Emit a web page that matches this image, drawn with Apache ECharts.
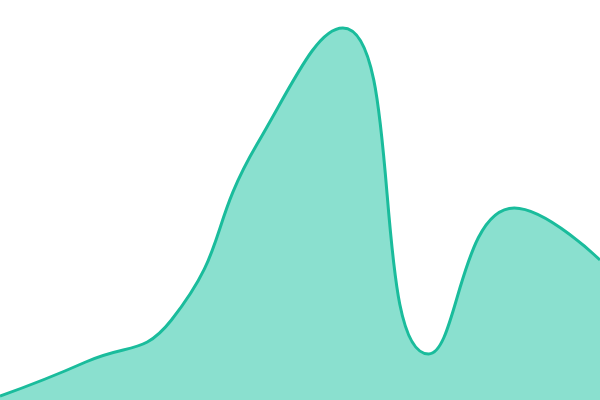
<!DOCTYPE html>
<html>
<head>
<meta charset="utf-8">
<style>
  html, body { margin: 0; padding: 0; background: #fff; }
  #main { width: 600px; height: 400px; }
</style>
</head>
<body>
<div id="main"></div>
<script src="https://cdn.jsdelivr.net/npm/echarts@6/dist/echarts.min.js"></script>
<script>
  var categories = ['A', 'B', 'C', 'D', 'E', 'F', 'G', 'H'];
  var values = [1, 9.5, 20, 64, 93, 11.5, 48, 35];

  var myChart = echarts.init(document.getElementById('main'));
  var option = {
    animation: false,
    grid: { left: 0, right: 0, top: 0, bottom: 0 },
    xAxis: {
      type: 'category',
      data: categories,
      boundaryGap: false,
      show: false
    },
    yAxis: {
      type: 'value',
      min: 0,
      max: 100,
      show: false
    },
    series: [{
      type: 'line',
      data: values,
      smooth: true,
      symbol: 'none',
      lineStyle: { color: '#1abc9c', width: 3 },
      areaStyle: { color: '#8ae0cf', opacity: 1 }
    }]
  };
  myChart.setOption(option);
</script>
</body>
</html>
